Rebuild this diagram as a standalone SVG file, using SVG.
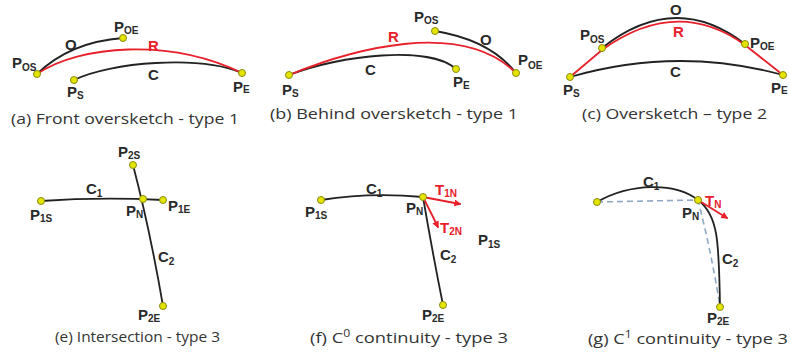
<svg xmlns="http://www.w3.org/2000/svg" width="790" height="356" viewBox="0 0 790 356">
<style>
.bg{fill:#ffffff}
.k{fill:none;stroke:#222;stroke-width:1.8;stroke-linecap:round}
.r{fill:none;stroke:#e8202a;stroke-width:1.8;stroke-linecap:round;stroke-linejoin:round}
.d{fill:none;stroke:#8fa8c4;stroke-width:1.6;stroke-dasharray:6 4}
.pt{fill:#e4e400;stroke:#8a8a10;stroke-width:1}
.lb{font-family:"Liberation Sans",Arial,sans-serif;font-weight:bold;font-size:15px;fill:#2a2a2a}
.lr{font-family:"Liberation Sans",Arial,sans-serif;font-weight:bold;font-size:15px;fill:#e8202a}
.sb{font-size:10px}
.cap{font-family:"Open Sans","Liberation Sans",sans-serif;font-size:15px;fill:#333}
</style>
<defs>
<marker id="ah" viewBox="0 0 10 10" refX="8" refY="5" markerWidth="7" markerHeight="7" markerUnits="userSpaceOnUse" orient="auto">
<path d="M0,0 L10,5 L0,10 z" fill="#e8202a"/>
</marker>
</defs>
<rect class="bg" x="0" y="0" width="790" height="356"/>

<g id="connectors">
<!-- (a) -->
<path id="a-C" class="k" d="M74,80 C110,62 200,55 242,73"/>
<path id="a-O" class="k" d="M37,74 Q70,42 123,38"/>
<path id="a-R" class="r" d="M37,74 C80,45 170,38 242,73"/>
<!-- (b) -->
<path id="b-C" class="k" d="M289,75 C340,55 430,45 456,69"/>
<path id="b-O" class="k" d="M435,31 Q490,40 516,73"/>
<path id="b-R" class="r" d="M289,75 C350,50 460,18 516,73"/>
<!-- (c) -->
<path id="c-C" class="k" d="M570,77 Q677,46 783,75"/>
<path id="c-O" class="k" d="M602,48 Q675,-10 745,44"/>
<path id="c-R" class="r" d="M570,77 L602,50 Q677,-4 745,45 L783,75"/>
<!-- (e) -->
<path id="e-C1" class="k" d="M41,201 Q100,197 163,200"/>
<path id="e-C2" class="k" d="M133,165 Q150,230 163,306"/>
<!-- (f) -->
<path id="f-C1" class="k" d="M321,200 Q370,192 423,197"/>
<path id="f-C2" class="k" d="M423,197 Q432,250 443,305"/>
<line id="f-T1N" class="r" x1="423" y1="197" x2="460" y2="204" marker-end="url(#ah)"/>
<line id="f-T2N" class="r" x1="423" y1="197" x2="438" y2="227" marker-end="url(#ah)"/>
<!-- (g) -->
<path id="g-dash" class="d" d="M597,202 L698,200 Q712,255 720,307"/>
<path id="g-C1" class="k" d="M597,202 C630,183 675,182 698,200"/>
<path id="g-C2" class="k" d="M698,200 C718,215 719,240 720,307"/>
<line id="g-TN" class="r" x1="698" y1="200" x2="727" y2="218" marker-end="url(#ah)"/>
</g>

<!-- curve labels -->
<g id="curve-labels">
<text class="lb" x="65" y="50">O</text>
<text class="lr" x="148" y="51">R</text>
<text class="lb" x="148" y="80">C</text>
<text class="lr" x="388" y="42">R</text>
<text class="lb" x="480" y="45">O</text>
<text class="lb" x="365" y="75">C</text>
<text class="lb" x="670" y="15">O</text>
<text class="lr" x="673" y="37">R</text>
<text class="lb" x="670" y="77">C</text>
<text class="lb" x="86" y="194">C<tspan class="sb" dy="3">1</tspan></text>
<text class="lb" x="158" y="262">C<tspan class="sb" dy="3">2</tspan></text>
<text class="lb" x="366" y="194">C<tspan class="sb" dy="3">1</tspan></text>
<text class="lb" x="440" y="260">C<tspan class="sb" dy="3">2</tspan></text>
<text class="lr" x="435" y="195">T<tspan class="sb" dy="2">1N</tspan></text>
<text class="lr" x="440" y="233">T<tspan class="sb" dy="2">2N</tspan></text>
<text class="lb" x="478" y="245">P<tspan class="sb" dy="3">1S</tspan></text>
<text class="lb" x="643" y="187">C<tspan class="sb" dy="3">1</tspan></text>
<text class="lb" x="722" y="264">C<tspan class="sb" dy="3">2</tspan></text>
<text class="lr" x="705" y="206">T<tspan class="sb" dy="2">N</tspan></text>
</g>

<!-- (a) nodes -->
<g id="a-POS"><circle class="pt" cx="37" cy="74" r="3.5"/><text class="lb" x="12" y="68">P<tspan class="sb" dy="3">OS</tspan></text></g>
<g id="a-POE"><circle class="pt" cx="123" cy="38" r="3.5"/><text class="lb" x="114" y="32">P<tspan class="sb" dy="2">OE</tspan></text></g>
<g id="a-PS"><circle class="pt" cx="74" cy="80" r="3.5"/><text class="lb" x="67" y="97">P<tspan class="sb" dy="2">S</tspan></text></g>
<g id="a-PE"><circle class="pt" cx="242" cy="73" r="3.5"/><text class="lb" x="233" y="92">P<tspan class="sb" dy="1">E</tspan></text></g>
<!-- (b) nodes -->
<g id="b-PS"><circle class="pt" cx="289" cy="75" r="3.5"/><text class="lb" x="282" y="95">P<tspan class="sb" dy="2">S</tspan></text></g>
<g id="b-PE"><circle class="pt" cx="456" cy="69" r="3.5"/><text class="lb" x="453" y="87">P<tspan class="sb" dy="2">E</tspan></text></g>
<g id="b-POS"><circle class="pt" cx="435" cy="31" r="3.5"/><text class="lb" x="414" y="22">P<tspan class="sb" dy="2">OS</tspan></text></g>
<g id="b-POE"><circle class="pt" cx="516" cy="73" r="3.5"/><text class="lb" x="518" y="65">P<tspan class="sb" dy="4">OE</tspan></text></g>
<!-- (c) nodes -->
<g id="c-PS"><circle class="pt" cx="570" cy="77" r="3.5"/><text class="lb" x="563" y="95">P<tspan class="sb" dy="2">S</tspan></text></g>
<g id="c-PE"><circle class="pt" cx="783" cy="75" r="3.5"/><text class="lb" x="771" y="93">P<tspan class="sb" dy="1">E</tspan></text></g>
<g id="c-POS"><circle class="pt" cx="602" cy="48" r="3.5"/><text class="lb" x="580" y="40">P<tspan class="sb" dy="3">OS</tspan></text></g>
<g id="c-POE"><circle class="pt" cx="745" cy="44" r="3.5"/><text class="lb" x="750" y="48">P<tspan class="sb" dy="2">OE</tspan></text></g>
<!-- (e) nodes -->
<g id="e-P1S"><circle class="pt" cx="41" cy="201" r="3.5"/><text class="lb" x="30" y="220">P<tspan class="sb" dy="2">1S</tspan></text></g>
<g id="e-PN"><circle class="pt" cx="143" cy="199" r="3.5"/><text class="lb" x="126" y="216">P<tspan class="sb" dy="2">N</tspan></text></g>
<g id="e-P1E"><circle class="pt" cx="163" cy="200" r="3.5"/><text class="lb" x="168" y="211">P<tspan class="sb" dy="2">1E</tspan></text></g>
<g id="e-P2S"><circle class="pt" cx="133" cy="165" r="3.5"/><text class="lb" x="118" y="157">P<tspan class="sb" dy="2">2S</tspan></text></g>
<g id="e-P2E"><circle class="pt" cx="163" cy="306" r="3.5"/><text class="lb" x="138" y="320">P<tspan class="sb" dy="2">2E</tspan></text></g>
<!-- (f) nodes -->
<g id="f-P1S"><circle class="pt" cx="321" cy="200" r="3.5"/><text class="lb" x="305" y="217">P<tspan class="sb" dy="2">1S</tspan></text></g>
<g id="f-PN"><circle class="pt" cx="423" cy="197" r="3.5"/><text class="lb" x="406" y="213">P<tspan class="sb" dy="2">N</tspan></text></g>
<g id="f-P2E"><circle class="pt" cx="443" cy="305" r="3.5"/><text class="lb" x="422" y="320">P<tspan class="sb" dy="2">2E</tspan></text></g>
<!-- (g) nodes -->
<g id="g-P1S"><circle class="pt" cx="597" cy="202" r="3.5"/></g>
<g id="g-PN"><circle class="pt" cx="698" cy="200" r="3.5"/><text class="lb" x="682" y="218">P<tspan class="sb" dy="2">N</tspan></text></g>
<g id="g-P2E"><circle class="pt" cx="720" cy="307" r="3.5"/><text class="lb" x="707" y="323">P<tspan class="sb" dy="2">2E</tspan></text></g>

<g id="captions">
<text class="cap" x="11" y="124" textLength="228" lengthAdjust="spacingAndGlyphs">(a) Front oversketch - type 1</text>
<text class="cap" x="270" y="119" textLength="248" lengthAdjust="spacingAndGlyphs">(b) Behind  oversketch - type 1</text>
<text class="cap" x="582" y="119" textLength="185" lengthAdjust="spacingAndGlyphs">(c) Oversketch – type 2</text>
<text class="cap" x="55" y="342" textLength="165" lengthAdjust="spacingAndGlyphs">(e) Intersection  - type 3</text>
<text class="cap" x="310" y="343" textLength="198" lengthAdjust="spacingAndGlyphs">(f) C<tspan font-size="10" dy="-6">0</tspan><tspan dy="6"> continuity - type 3</tspan></text>
<text class="cap" x="588" y="344" textLength="200" lengthAdjust="spacingAndGlyphs">(g) C<tspan font-size="10" dy="-6">1</tspan><tspan dy="6"> continuity - type 3</tspan></text>
</g>
</svg>
